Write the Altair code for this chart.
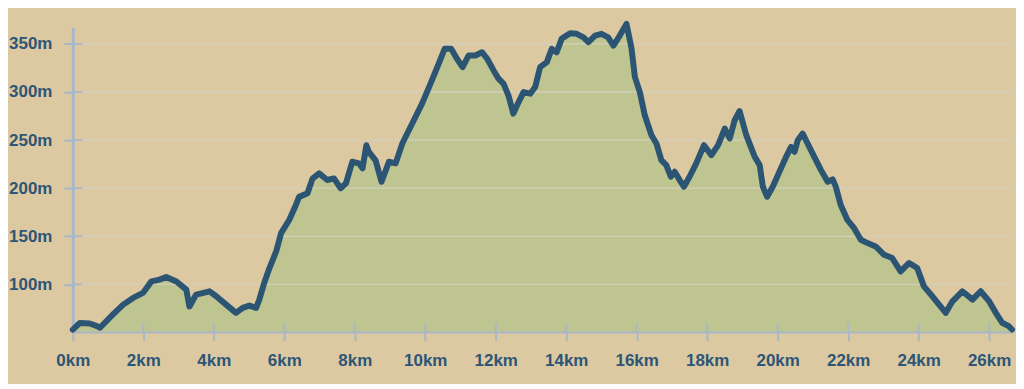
import altair as alt
import pandas as pd

dist_km = [0.0, 0.20, 0.48, 0.67, 0.77, 0.86, 1.14, 1.43, 1.71, 1.99, 2.23, 2.46, 2.65, 2.94,
           3.22, 3.31, 3.50, 3.88, 4.07, 4.35, 4.63, 4.82, 5.01, 5.20, 5.29, 5.43, 5.58, 5.77,
           5.91, 6.14, 6.33, 6.42, 6.66, 6.80, 6.99, 7.22, 7.41, 7.60, 7.75, 7.93, 8.12, 8.22,
           8.33, 8.40, 8.59, 8.76, 8.97, 9.16, 9.35, 9.63, 9.91, 10.15, 10.38, 10.55, 10.74,
           10.90, 11.06, 11.23, 11.42, 11.61, 11.75, 11.94, 12.08, 12.22, 12.36, 12.50, 12.65,
           12.79, 12.98, 13.12, 13.26, 13.45, 13.59, 13.73, 13.87, 14.11, 14.30, 14.49, 14.63,
           14.82, 15.00, 15.19, 15.34, 15.52, 15.71, 15.85, 15.95, 16.09, 16.23, 16.42, 16.56,
           16.70, 16.84, 16.97, 17.08, 17.22, 17.34, 17.50, 17.69, 17.91, 18.12, 18.31, 18.50,
           18.64, 18.78, 18.92, 19.11, 19.35, 19.49, 19.58, 19.70, 19.86, 20.05, 20.24, 20.38,
           20.48, 20.57, 20.71, 20.85, 21.04, 21.23, 21.42, 21.56, 21.65, 21.79, 21.98, 22.17,
           22.36, 22.55, 22.78, 23.02, 23.25, 23.49, 23.73, 23.96, 24.15, 24.39, 24.58, 24.77,
           24.96, 25.24, 25.53, 25.76, 26.00, 26.19, 26.37, 26.56, 26.65]
elev_m = [53, 60, 59.4, 57, 55, 58.4, 68.8, 79, 86, 91.2, 103.2, 105, 107.8, 103,
          94.6, 77, 89.5, 92.8, 87.7, 79, 70.5, 75.6, 78, 75.6, 84, 101.5, 117, 134.3,
          153.3, 167, 182.6, 191, 194.7, 210, 215.4, 208.5, 210.2, 199.9, 205, 227.5, 225.8, 220.6,
          244.7, 237.8, 229, 206.7, 227.5, 225.8, 246.5, 267.2, 287.9, 308.6, 329.3, 344.8, 344.8,
          334.5, 325.8, 337.9, 337.9, 341.3, 335, 322.4, 313.8, 308.6, 296.5, 277.5, 289.5,
          299.9, 298.2, 305.1, 325.8, 331, 344.8, 341.3, 355.2, 361, 360.4, 356.8, 351.7,
          358.6, 360.4, 356.8, 348.2, 358.6, 370.7, 346, 315.5, 299.9, 275.8, 255.1, 246.5,
          229.2, 224, 211.9, 217.1, 208.5, 201.6, 211.9, 225.8, 244.7, 234.4, 244.7, 262,
          251.7, 270.6, 280.2, 255.1, 232.6, 224, 201.6, 191.2, 201.6, 217.1, 232.6, 243,
          237.8, 249.9, 256.8, 246.5, 232.6, 218.8, 206.7, 209.2, 201.6, 182.6, 167, 158.5,
          146.4, 143, 139.5, 130.8, 127.4, 113.6, 122.3, 117, 98, 87.7, 79, 70.5,
          82.5, 92.9, 84.3, 92.9, 82.5, 70.5, 60.2, 56.6, 53.2]

x_ticks = [0, 2, 4, 6, 8, 10, 12, 14, 16, 18, 20, 22, 24, 26]
y_ticks = [100, 150, 200, 250, 300, 350]

W, H = 942, 305
BG = "#dcc9a2"
FILL = "#bec590"
LINE = "#2c5573"
AXIS = "#a9b8c8"
GRID = "#d2cfbf"
TEXT = "#2d5676"
FONT = "Liberation Sans"

df = pd.DataFrame({"km": dist_km, "m": elev_m})
xt = pd.DataFrame({"km": x_ticks})
yt = pd.DataFrame({"m": y_ticks})

xs = alt.Scale(domain=[0, 26.65], nice=False, zero=False)
ys = alt.Scale(domain=[51, 367], nice=False, zero=False)

x_axis = alt.Axis(values=x_ticks, labelExpr="datum.value + 'km'", title=None, grid=False,
                  domainColor=AXIS, domainWidth=3, tickColor=AXIS, tickWidth=2, tickSize=9,
                  labelColor=TEXT, labelFont=FONT, labelFontSize=17, labelFontWeight="bold",
                  labelPadding=12, labelFlush=False)
y_axis = alt.Axis(values=y_ticks, labelExpr="datum.value + 'm'", title=None, grid=False,
                  domainColor=AXIS, domainWidth=3, tickColor=AXIS, tickWidth=2, tickSize=9,
                  labelColor=TEXT, labelFont=FONT, labelFontSize=17, labelFontWeight="bold",
                  labelPadding=12)

X = alt.X("km:Q", scale=xs, axis=x_axis)
Y = alt.Y("m:Q", scale=ys, axis=y_axis)

area = alt.Chart(df).mark_area(color=FILL, interpolate="linear").encode(
    x=X, y=Y, y2=alt.datum(51),
)

grid = alt.Chart(yt).mark_rule(color=GRID, strokeWidth=1.3).encode(
    y=Y, x=alt.value(9), x2=alt.value(W),
)

inner_y_ticks = alt.Chart(yt).mark_rule(color=AXIS, strokeWidth=2).encode(
    y=Y, x=alt.value(0), x2=alt.value(9),
)

inner_x_ticks = alt.Chart(xt).mark_rule(color=AXIS, strokeWidth=2).encode(
    x=X, y=alt.value(H - 9), y2=alt.value(H),
)

line = alt.Chart(df).mark_line(color=LINE, strokeWidth=6, strokeJoin="round", strokeCap="round").encode(
    x=X, y=Y,
)

chart = alt.layer(area, grid, inner_y_ticks, inner_x_ticks, line).properties(
    width=W, height=H,
    background=BG,
    padding={"left": 65, "top": 19, "right": 4, "bottom": 52},
    autosize=alt.AutoSizeParams(type="none"),
).configure_view(stroke=None)

chart.save("out.html", embed_options={"renderer": "svg", "actions": False})
